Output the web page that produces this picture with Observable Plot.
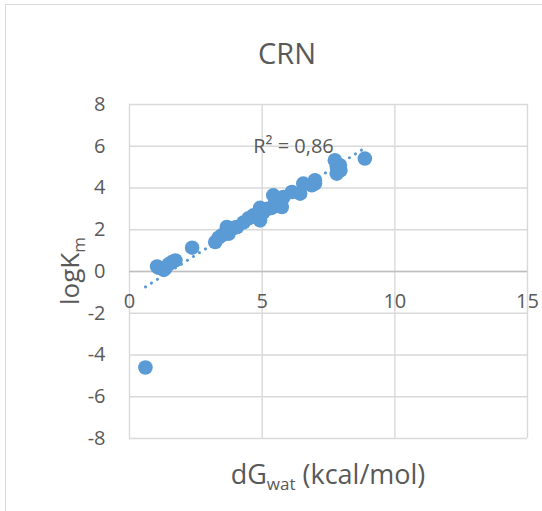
<!DOCTYPE html>
<html>
<head>
<meta charset="utf-8">
<script src="https://cdn.jsdelivr.net/npm/d3@7"></script>
<script src="https://cdn.jsdelivr.net/npm/@observablehq/plot@0.6"></script>
<style>
  html, body { margin: 0; padding: 0; background: #fff; overflow: hidden; }
  #chart { position: relative; width: 542px; height: 511px; }
  #chart svg { position: absolute; left: 0; top: 0; }
  #frame { position: absolute; left: 5px; top: 4px; width: 700px; height: 700px;
           border: 1.5px solid #d9d9d9; box-sizing: border-box; pointer-events: none; }
</style>
</head>
<body>
<div id="chart"><div id="frame"></div></div>
<script>
// Solvation free energy in water (kcal/mol) against log Km, CRN set
const dGwat = [0.60, 1.04, 1.10, 1.29, 1.35, 1.48, 1.60, 1.73, 2.36, 3.23,
               3.36, 3.48, 3.67, 3.73, 3.98, 4.05, 4.30, 4.49, 4.67, 4.92,
               4.92, 5.05, 5.20, 5.36, 5.42, 5.50, 5.74, 5.74, 5.80, 6.12,
               6.43, 6.55, 6.87, 6.99, 6.99, 7.74, 7.81, 7.93, 7.81, 7.95, 8.87];
const logKm = [-4.60, 0.24, 0.18, 0.08, 0.15, 0.35, 0.45, 0.53, 1.14, 1.41,
               1.62, 1.73, 2.13, 1.81, 2.10, 2.13, 2.35, 2.55, 2.69, 2.45,
               3.05, 2.85, 3.00, 3.05, 3.65, 3.35, 3.09, 3.45, 3.57, 3.81,
               3.73, 4.21, 4.13, 4.21, 4.37, 5.33, 5.05, 5.09, 4.69, 4.85, 5.41];

const xTicks = [0, 5, 10, 15];
const yTicks = [-8, -6, -4, -2, 0, 2, 4, 6, 8];
const chartTitle = "CRN";
const fitLabel = ["R² = 0,86"];

const points = dGwat.map((x, i) => ({x, y: logKm[i]}));

const FONT = "'Open Sans', 'Noto Sans', sans-serif";
const INK = "#595959";
const BLUE = "#5b9bd5";
const GRID = "#d9d9d9";

const plot = Plot.plot({
  width: 542,
  height: 511,
  marginLeft: 129,
  marginRight: 15,
  marginTop: 104,
  marginBottom: 73,
  style: {fontFamily: FONT, color: INK, background: "transparent", overflow: "visible"},
  x: {domain: [0, 15], axis: null},
  y: {domain: [-8, 8]},
  marks: [
    Plot.gridY(yTicks, {stroke: GRID, strokeOpacity: 1, strokeWidth: 1.4}),
    Plot.gridX(xTicks, {stroke: GRID, strokeOpacity: 1, strokeWidth: 1.4}),
    Plot.ruleY([0], {stroke: "#bfbfbf", strokeWidth: 1.5}),
    Plot.axisY(yTicks, {tickSize: 0, tickPadding: 24, fontSize: 20, label: null,
                        tickFormat: d => String(d)}),
    // category labels sit just under the zero line
    Plot.text(xTicks, {x: d => d, y: () => 0, dy: 30, fontSize: 20, fill: INK,
                       text: d => String(d)}),
    Plot.dot(points, {x: "x", y: "y", r: 7.3, fill: BLUE, stroke: null}),
    Plot.linearRegressionY(points, {
      x: "x", y: "y", ci: 0, stroke: BLUE, strokeWidth: 3,
      strokeDasharray: "0.1 7", strokeLinecap: "round"
    }),
    Plot.text(fitLabel, {x: () => 4.66, y: () => 6.0, textAnchor: "start",
                         fontSize: 20, fill: INK})
  ]
});

document.getElementById("chart").prepend(plot);

// Title and axis titles with subscripts
const svg = d3.select(plot);
svg.append("text")
  .attr("x", 287).attr("y", 64)
  .attr("text-anchor", "middle")
  .attr("font-family", FONT).attr("font-size", 29).attr("fill", INK)
  .text(chartTitle);

const xt = svg.append("text")
  .attr("x", 328).attr("y", 484)
  .attr("text-anchor", "middle")
  .attr("font-family", FONT).attr("font-size", 27).attr("fill", INK);
xt.append("tspan").text("dG");
xt.append("tspan").attr("font-size", 17).attr("dy", 6).text("wat");
xt.append("tspan").attr("dy", -6).text(" (kcal/mol)");

const yt = svg.append("text")
  .attr("transform", "translate(79,271) rotate(-90)")
  .attr("text-anchor", "middle")
  .attr("font-family", FONT).attr("font-size", 26).attr("fill", INK);
yt.append("tspan").text("logK");
yt.append("tspan").attr("font-size", 17).attr("dy", 6).text("m");
</script>
</body>
</html>
